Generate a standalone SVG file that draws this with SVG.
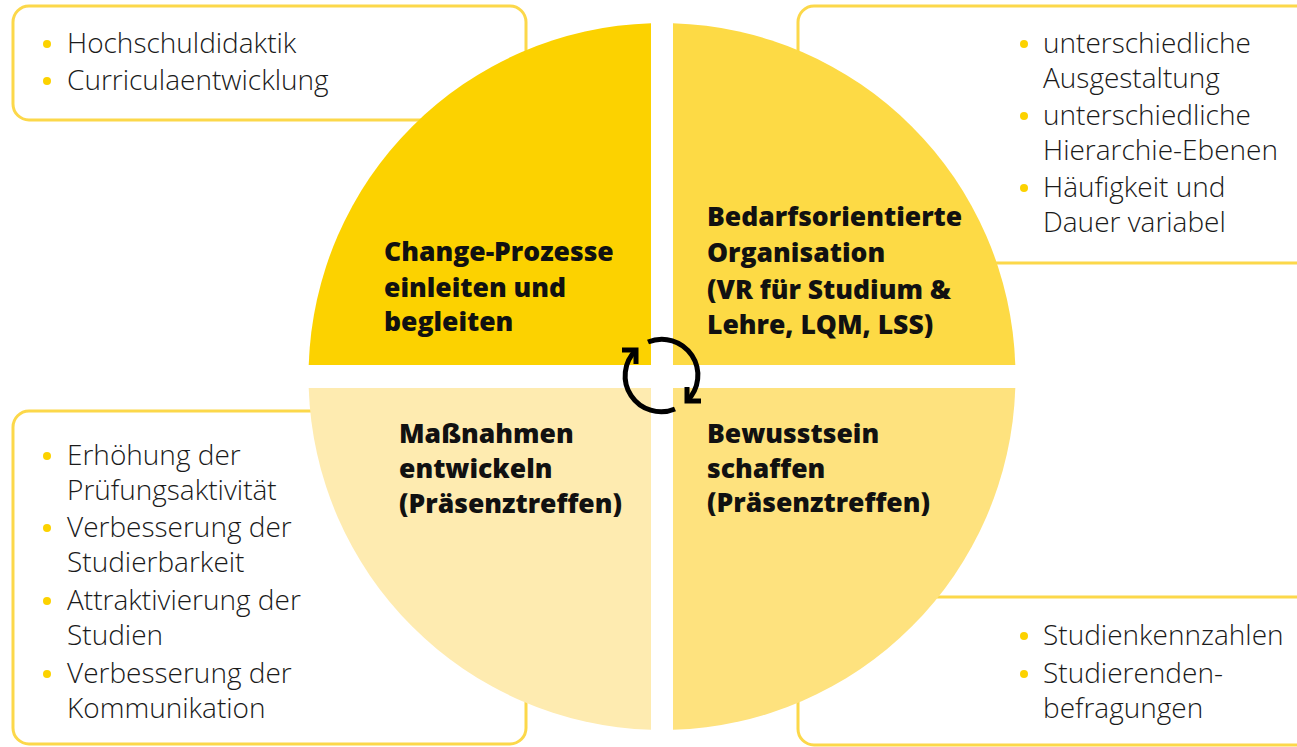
<svg xmlns="http://www.w3.org/2000/svg" width="1297" height="747" viewBox="0 0 1297 747">
<style>
.box{fill:#fff;stroke:#FCD84A;stroke-width:3}
.li{font-family:"Open Sans","Liberation Sans",sans-serif;font-weight:300;font-size:28px;fill:#1a1a1a}
.tt{font-family:"Open Sans","Liberation Sans",sans-serif;font-weight:800;font-size:26.5px;fill:#111}
.dot{fill:#FCD200}
.cyc{fill:none;stroke:#000;stroke-width:5}
</style>
<rect width="1297" height="747" fill="#fff"/>
<g id="box-tl">
<rect class="box" x="13" y="6" width="513" height="114" rx="16"/>
<circle class="dot" cx="47" cy="44" r="4"/><text class="li" x="67" y="53">Hochschuldidaktik</text>
<circle class="dot" cx="47" cy="81" r="4"/><text class="li" x="67" y="90">Curriculaentwicklung</text>
</g>
<g id="box-tr">
<rect class="box" x="798" y="6" width="530" height="257" rx="16"/>
<circle class="dot" cx="1024" cy="44" r="4"/><text class="li" x="1043" y="53">unterschiedliche</text>
<text class="li" x="1043" y="88">Ausgestaltung</text>
<circle class="dot" cx="1024" cy="116" r="4"/><text class="li" x="1043" y="125">unterschiedliche</text>
<text class="li" x="1043" y="160">Hierarchie-Ebenen</text>
<circle class="dot" cx="1024" cy="188" r="4"/><text class="li" x="1043" y="197">Häufigkeit und</text>
<text class="li" x="1043" y="232">Dauer variabel</text>
</g>
<g id="box-bl">
<rect class="box" x="13" y="411" width="513" height="333" rx="16"/>
<circle class="dot" cx="47" cy="456" r="4"/><text class="li" x="67" y="465">Erhöhung der</text>
<text class="li" x="67" y="500">Prüfungsaktivität</text>
<circle class="dot" cx="47" cy="528" r="4"/><text class="li" x="67" y="537">Verbesserung der</text>
<text class="li" x="67" y="572">Studierbarkeit</text>
<circle class="dot" cx="47" cy="601" r="4"/><text class="li" x="67" y="610">Attraktivierung der</text>
<text class="li" x="67" y="645">Studien</text>
<circle class="dot" cx="47" cy="674" r="4"/><text class="li" x="67" y="683">Verbesserung der</text>
<text class="li" x="67" y="718">Kommunikation</text>
</g>
<g id="box-br">
<rect class="box" x="798" y="597" width="530" height="148" rx="16"/>
<circle class="dot" cx="1024" cy="636" r="4"/><text class="li" x="1043" y="645">Studienkennzahlen</text>
<circle class="dot" cx="1024" cy="674" r="4"/><text class="li" x="1043" y="683">Studierenden-</text>
<text class="li" x="1043" y="718">befragungen</text>
</g>
<g id="q-change">
<path d="M651 23.2 L651 365 L308.7 365 A353.5 353.5 0 0 1 651 23.2 Z" fill="#FCD200"/>
<text class="tt" x="384" y="261">Change-Prozesse</text>
<text class="tt" x="384" y="297">einleiten und</text>
<text class="tt" x="384" y="331">begleiten</text>
</g>
<g id="q-bedarf">
<path d="M673 23.2 A353.5 353.5 0 0 1 1015.3 365 L673 365 Z" fill="#FDDA45"/>
<text class="tt" x="707" y="226">Bedarfsorientierte</text>
<text class="tt" x="707" y="262">Organisation</text>
<text class="tt" x="707" y="299">(VR für Studium &amp;</text>
<text class="tt" x="707" y="334">Lehre, LQM, LSS)</text>
</g>
<g id="q-bewusst">
<path d="M673 388 L1015.3 388 A353.5 353.5 0 0 1 673 729.8 Z" fill="#FEE27E"/>
<text class="tt" x="707" y="443">Bewusstsein</text>
<text class="tt" x="707" y="478">schaffen</text>
<text class="tt" x="707" y="512">(Präsenztreffen)</text>
</g>
<g id="q-massnahmen">
<path d="M651 388 L651 729.8 A353.5 353.5 0 0 1 308.7 388 Z" fill="#FEEBB0"/>
<text class="tt" x="399" y="443">Maßnahmen</text>
<text class="tt" x="399" y="478">entwickeln</text>
<text class="tt" x="399" y="513">(Präsenztreffen)</text>
</g>
<g id="connectors">
<path class="cyc" d="M648 342 A36 36 0 0 1 687 401"/>
<path class="cyc" d="M701 401 L687 401 L687 387"/>
<path class="cyc" d="M675 409 A36 36 0 0 1 636 350"/>
<path class="cyc" d="M622 350 L636 350 L636 364"/>
</g>
</svg>
